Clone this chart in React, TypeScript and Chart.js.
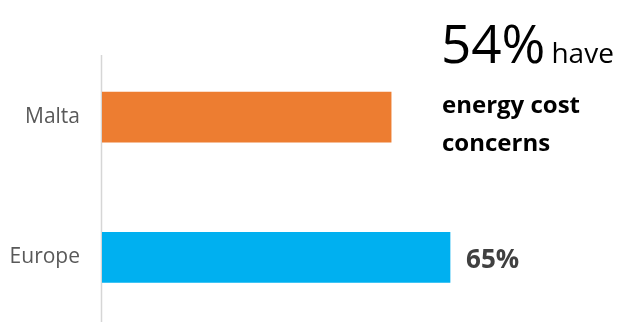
import React, { useEffect, useRef } from "react";
import { Chart, registerables } from "chart.js";

Chart.register(...registerables);

const categories = ["Malta", "Europe"];
const shares = [54, 65];
const barColors = ["#ED7D31", "#00B0F0"];
const headlineTail = "have";
const headlineLines = ["energy cost", "concerns"];

const FONT = "'Open Sans', 'DejaVu Sans', sans-serif";

const overlayPlugin = {
  id: "overlay",
  beforeDatasetsDraw(chart: any) {
    const { ctx, chartArea } = chart;
    ctx.save();
    ctx.strokeStyle = "#d6d6d6";
    ctx.lineWidth = 1.5;
    ctx.beginPath();
    ctx.moveTo(chartArea.left - 0.5, 55);
    ctx.lineTo(chartArea.left - 0.5, 330);
    ctx.stroke();
    ctx.restore();
  },
  afterDraw(chart: any) {
    const { ctx } = chart;
    const meta = chart.getDatasetMeta(0);
    ctx.save();
    const eu = meta.data[1];
    ctx.fillStyle = "#404040";
    ctx.font = `bold 26px ${FONT}`;
    ctx.textAlign = "left";
    ctx.textBaseline = "alphabetic";
    ctx.fillText(`${shares[1]}%`, eu.x + 16, eu.y + 11);

    ctx.fillStyle = "#000000";
    ctx.font = `53px ${FONT}`;
    const big = `${shares[0]}%`;
    const x0 = 441;
    ctx.fillText(big, x0, 63);
    const w = ctx.measureText(big).width;
    ctx.font = `28px ${FONT}`;
    ctx.fillText(headlineTail, x0 + w + 6, 63);
    ctx.font = `bold 24px ${FONT}`;
    ctx.fillText(headlineLines[0], x0 + 1, 113);
    ctx.fillText(headlineLines[1], x0 + 1, 151);
    ctx.restore();
  },
};

export default function App() {
  const ref = useRef<HTMLCanvasElement>(null);
  useEffect(() => {
    if (!ref.current) return;
    const chart = new Chart(ref.current, {
      type: "bar",
      data: {
        labels: categories,
        datasets: [
          {
            data: shares,
            backgroundColor: barColors,
            borderWidth: 0,
            barThickness: 50,
          },
        ],
      },
      options: {
        indexAxis: "y",
        animation: false,
        responsive: true,
        maintainAspectRatio: false,
        layout: { padding: { top: 47, bottom: 3, left: 0, right: 3 } },
        plugins: {
          legend: { display: false },
          tooltip: { enabled: false },
        },
        scales: {
          x: {
            display: false,
            min: 0,
            max: 96,
          },
          y: {
            grid: { display: false, drawTicks: false },
            border: { display: false },
            afterFit: (scale: any) => {
              scale.width = 102;
            },
            ticks: {
              color: "#595959",
              padding: 22,
              font: { family: FONT, size: 21 },
            },
          },
        },
      },
      plugins: [overlayPlugin],
    });
    return () => chart.destroy();
  }, []);
  return (
    <div
      style={{
        position: "fixed",
        left: 0,
        top: 0,
        width: 619,
        height: 322,
        overflow: "hidden",
        background: "#fff",
      }}
    >
      <div style={{ position: "relative", width: 619, height: 362 }}>
        <canvas ref={ref} />
      </div>
    </div>
  );
}
